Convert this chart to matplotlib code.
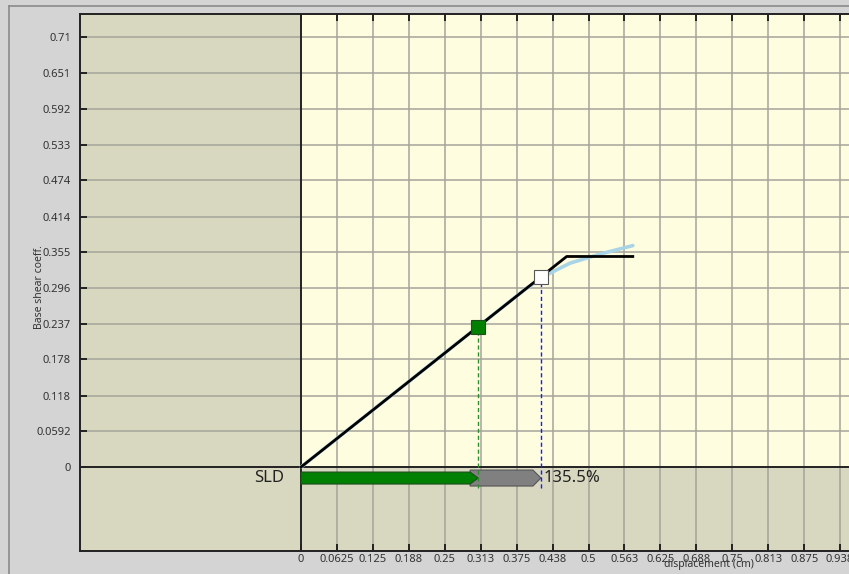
import numpy as np
import matplotlib.pyplot as plt
from matplotlib.patches import Polygon, Rectangle
from matplotlib.lines import Line2D

plt.rcParams['font.family'] = ['Noto Sans', 'DejaVu Sans']

# pushover curve data (displacement in cm, base shear coefficient)
bilinear_d = [0.0, 0.462, 0.577]
bilinear_v = [0.0, 0.348, 0.348]
capacity_d = [0.0, 0.39, 0.428, 0.468, 0.52, 0.577]
capacity_v = [0.0, 0.294, 0.318, 0.337, 0.352, 0.366]

# SLD check: demand vs capacity
sld_demand_d = 0.308
sld_demand_v = 0.232
sld_capacity_d = 0.4173
sld_capacity_v = 0.314

x_ticks = [0, 0.0625, 0.125, 0.1875, 0.25, 0.3125, 0.375, 0.4375, 0.5,
           0.5625, 0.625, 0.6875, 0.75, 0.8125, 0.875, 0.9375]
x_labels = ['0', '0.0625', '0.125', '0.188', '0.25', '0.313', '0.375', '0.438', '0.5',
            '0.563', '0.625', '0.688', '0.75', '0.813', '0.875', '0.938']
y_ticks = [0, 0.0592, 0.118, 0.178, 0.237, 0.296, 0.355, 0.414, 0.474,
           0.533, 0.592, 0.651, 0.71]
y_labels = ['0', '0.0592', '0.118', '0.178', '0.237', '0.296', '0.355', '0.414', '0.474',
            '0.533', '0.592', '0.651', '0.71']

W, H = 849, 574
fig = plt.figure(figsize=(W / 100, H / 100), dpi=100, facecolor='#d4d4d4')

# outer frame line
fig.add_artist(Line2D([9 / W, 9 / W], [0, 1 - 6 / H], color='#8a8a8a', lw=1.2))
fig.add_artist(Line2D([9 / W, 1], [1 - 6 / H, 1 - 6 / H], color='#8a8a8a', lw=1.2))

ax = fig.add_axes([80 / W, 1 - 551 / H, (W - 80) / W, (551 - 14) / H])
xmin, xmax = -0.3843, 0.953
ymin, ymax = -0.1388, 0.7488
ax.set_xlim(xmin, xmax)
ax.set_ylim(ymin, ymax)
ax.set_facecolor('#d8d8c0')

# positive quadrant background
ax.add_patch(Rectangle((0, 0), xmax, ymax, facecolor='#fffde0', edgecolor='none', zorder=0))

grid_col = '#a4a49a'
for yt in y_ticks[1:]:
    ax.plot([xmin, xmax], [yt, yt], color=grid_col, lw=1.1, zorder=1)
for xt in x_ticks[1:]:
    ax.plot([xt, xt], [ymin, ymax], color=grid_col, lw=1.1, zorder=1)

ax.axhline(0, color='#222222', lw=1.4, zorder=2)
ax.axvline(0, color='#222222', lw=1.4, zorder=2)

# curves
ax.plot(capacity_d, capacity_v, color='#a8d4e6', lw=2.6, zorder=3, solid_capstyle='round')
ax.plot(bilinear_d, bilinear_v, color='black', lw=2.0, zorder=4)

# dashed drop lines
bar_bottom = -0.035
ax.plot([sld_demand_d, sld_demand_d], [bar_bottom, sld_demand_v], color='#2e8b2e',
        ls=(0, (3, 2)), lw=1.0, zorder=6)
ax.plot([sld_capacity_d, sld_capacity_d], [bar_bottom, sld_capacity_v], color='#1a1aff',
        ls=(0, (3, 2)), lw=1.0, zorder=6)

ax.plot(sld_demand_d, sld_demand_v, marker='s', ms=10, mfc='#008000', mec='#1e4d1e',
        mew=0.8, zorder=7)
ax.plot(sld_capacity_d, sld_capacity_v, marker='s', ms=10, mfc='white', mec='#555555',
        mew=0.8, zorder=7)

# arrow bars
tip = 0.0139
g_top, g_bot = -0.0083, -0.0281
r_top, r_bot = -0.005, -0.0314
g_mid = (g_top + g_bot) / 2
gray_bar = Polygon([(sld_demand_d - tip, r_top), (sld_capacity_d - tip, r_top),
                    (sld_capacity_d, g_mid), (sld_capacity_d - tip, r_bot),
                    (sld_demand_d - tip, r_bot)],
                   closed=True, facecolor='#808080', edgecolor='#555555', lw=0.8, zorder=4)
green_bar = Polygon([(0, g_top), (sld_demand_d - tip, g_top), (sld_demand_d, g_mid),
                     (sld_demand_d - tip, g_bot), (0, g_bot)],
                    closed=True, facecolor='#008000', edgecolor='#1e4d1e', lw=0.8, zorder=5)
ax.add_patch(gray_bar)
ax.add_patch(green_bar)

ax.text(-0.03, g_mid, 'SLD', ha='right', va='center', fontsize=12, color='#222222')
ax.text(sld_capacity_d + 0.004, g_mid, f'{sld_capacity_d / sld_demand_d * 100:.1f}%',
        ha='left', va='center', fontsize=12, color='#222222', zorder=8)

ax.set_xticks(x_ticks)
ax.set_xticklabels(x_labels)
ax.set_yticks(y_ticks)
ax.set_yticklabels(y_labels)
ax.tick_params(axis='both', direction='in', length=5, width=1.4, color='#222222',
               labelsize=8, labelcolor='#333333')
ax.tick_params(axis='y', pad=6.5)
ax.tick_params(axis='x', pad=2, top=True)

for side in ['left', 'bottom', 'top']:
    ax.spines[side].set_color('#222222')
    ax.spines[side].set_linewidth(1.4)
ax.spines['right'].set_visible(False)

fig.text(39 / W, 1 - 287 / H, 'Base shear coeff.', rotation=90, ha='center', va='center',
         fontsize=7.5, color='#333333')
fig.text(709 / W, 1 - 564 / H, 'displacement (cm)', ha='center', va='center',
         fontsize=7.5, color='#333333')

fig.savefig('out.png', dpi=100, facecolor=fig.get_facecolor())
